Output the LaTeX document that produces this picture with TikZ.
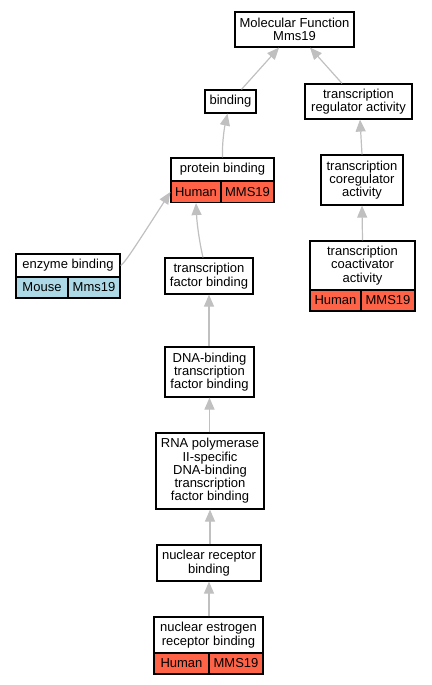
\documentclass[tikz,border=0pt]{standalone}
\usepackage{fontspec}
\setmainfont{Liberation Sans}
\usetikzlibrary{arrows.meta,calc}
\definecolor{edgegray}{RGB}{192,192,192}
\definecolor{humanred}{RGB}{255,99,71}
\definecolor{mouseblue}{RGB}{173,216,230}
\tikzset{
  box/.style={draw=black, line width=1.2pt, fill=white, align=center, inner sep=0pt,
    font=\fontsize{13}{13.3}\selectfont},
  humancell/.style={box, fill=humanred},
  mousecell/.style={box, fill=mouseblue},
  link/.style={draw=edgegray, line width=1.2pt, -{Triangle[length=12pt,width=10pt]}},
}
\begin{document}
\begin{tikzpicture}[x=1pt,y=-1pt]
\useasboundingbox (0,0) rectangle (431,685);
% nodes
\node[box, minimum width=119pt, minimum height=35pt] (mf) at (294.5,29.5) {Molecular Function\\Mms19};
\node[box, minimum width=51pt, minimum height=23pt] (bind) at (230.5,101.5) {binding};
\node[box, minimum width=107pt, minimum height=35pt] (tra) at (358.5,101.5) {transcription\\regulator activity};
% protein binding
\node[box, minimum width=103pt, minimum height=23pt] (pb) at (222.5,169.5) {protein binding};
\node[humancell, minimum width=50pt, minimum height=21pt] (pbh) at (196,192) {Human};
\node[humancell, minimum width=53pt, minimum height=21pt] (pbm) at (247.5,192) {MMS19};
% coregulator
\node[box, minimum width=82pt, minimum height=50pt] (cor) at (362,180) {transcription\\coregulator\\activity};
% coactivator
\node[box, minimum width=105pt, minimum height=49pt] (coa) at (362.5,265.5) {transcription\\coactivator\\activity};
\node[humancell, minimum width=51pt, minimum height=21pt] (coah) at (335.5,300.5) {Human};
\node[humancell, minimum width=54pt, minimum height=21pt] (coam) at (388,300.5) {MMS19};
% enzyme binding
\node[box, minimum width=104pt, minimum height=23pt] (eb) at (68,265.5) {enzyme binding};
\node[mousecell, minimum width=52pt, minimum height=21pt] (ebm) at (42,287.5) {Mouse};
\node[mousecell, minimum width=52pt, minimum height=21pt] (ebg) at (94,287.5) {Mms19};
% chain
\node[box, minimum width=88pt, minimum height=36pt] (tfb) at (209,276) {transcription\\factor binding};
\node[box, minimum width=89pt, minimum height=50pt] (dna) at (209.5,372) {DNA-binding\\transcription\\factor binding};
\node[box, minimum width=108pt, minimum height=76pt] (rna) at (210,471) {RNA polymerase\\II-specific\\DNA-binding\\transcription\\factor binding};
\node[box, minimum width=104pt, minimum height=36pt] (nr) at (209,563) {nuclear receptor\\binding};
\node[box, minimum width=109pt, minimum height=36pt] (ner) at (208.5,635) {nuclear estrogen\\receptor binding};
\node[humancell, minimum width=55pt, minimum height=21pt] (nerh) at (181.5,663.5) {Human};
\node[humancell, minimum width=54pt, minimum height=21pt] (nerm) at (236,663.5) {MMS19};
% edges
\draw[link] ($(bind.north)+(11,0)$) -- ($(mf.south)+(-15.5,0)$);
\draw[link] ($(tra.north)+(-16.5,0)$) -- ($(mf.south)+(15.5,0)$);
\draw[link] (pb.north) .. controls (222,140) and (225,125) .. ($(bind.south)+(-3,0)$);
\draw[link] (cor.north) -- ($(tra.south)+(1.5,0)$);
\draw[link] (coa.north) -- (cor.south);
\draw[link] (eb.east) .. controls (125,262) and (128,258) .. (pbh.west);
\draw[link] ($(tfb.north)+(-6,0)$) .. controls (200,245) and (197,225) .. (pbh.south);
\draw[link] (dna.north -| tfb.south) -- (tfb.south);
\draw[link] (rna.north -| dna.south) -- (dna.south);
\draw[link] (nr.north -| rna.south) -- (rna.south);
\draw[link] (ner.north -| nr.south) -- (nr.south);
\end{tikzpicture}
\end{document}
